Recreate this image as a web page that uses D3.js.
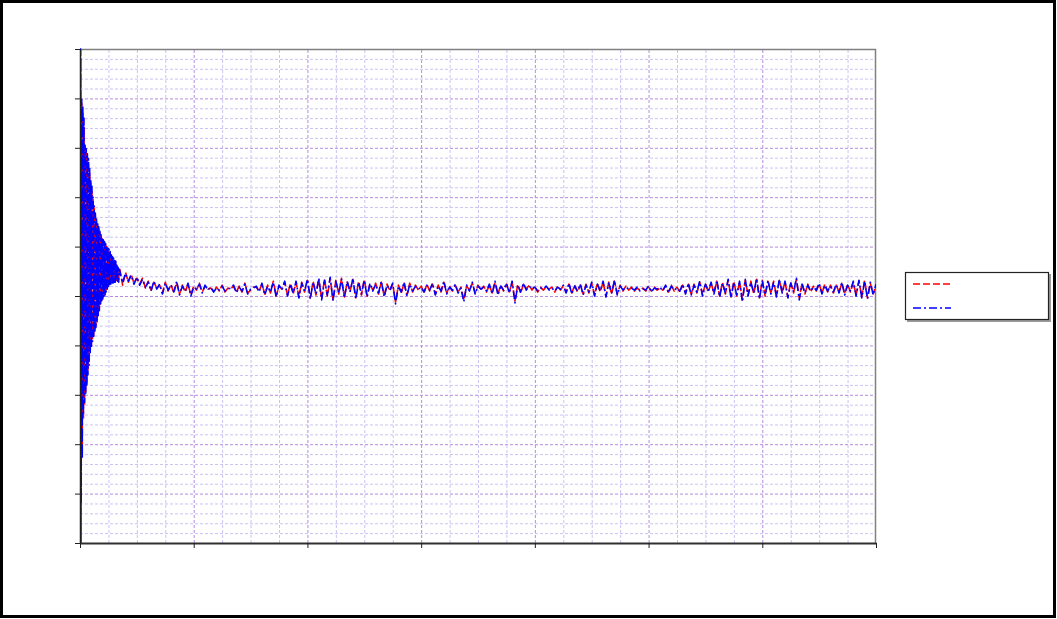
<!DOCTYPE html>
<html>
<head>
<meta charset="utf-8">
<script src="https://cdn.jsdelivr.net/npm/d3@7"></script>
<style>
  html, body { margin: 0; padding: 0; background: #fff; overflow: hidden; }
  svg { display: block; }
</style>
</head>
<body>
<svg id="chart" width="1057" height="619"></svg>
<script>
// ---- sampling grid (x units) ----
const xDomain = [0, 7000];
const yDomain = [-500, 500];
const xMajorTicks = [0, 1000, 2000, 3000, 4000, 5000, 6000, 7000];
const yMajorTicks = [-500, -400, -300, -200, -100, 0, 100, 200, 300, 400, 500];
const transientStart = 0, transientStep = 5;
const steadyStart = 350, steadyStep = 25;

// ---- series 1 (red, dashed) ----
const redTransient = [0, 480, -500, 390, -300, 370, -250, 340, -220, 300, -196, 292, -176, 282, -150, 270, -136, 250, -114, 230,
  -100, 215, -90, 196, -80, 178, -70, 164, -60, 152, -48, 144, -36, 136, -26, 128, -16, 121, -10, 116,
  -4, 112, 0, 108, 4, 104, 10, 100, 16, 96, 20, 92, 24, 88, 26, 82, 28, 78, 28, 74,
  30, 70, 30, 66, 32, 60, 32, 56, 30, 52];
const redSteady = [
  54, 22, 48, 28, 44, 26, 36, 24, 36, 16,
  30, 12, 28, 16, 22, 6, 28, 10, 24, 6,
  28, 4, 22, 8, 24, 2, 20, 12, 26, 8,
  20, 14, 16, 10, 18, 10, 22, 8, 16, 14,
  20, 8, 20, 8, 26, 6, 12, 18, 18, 10,
  24, 4, 22, 6, 30, 0, 20, 14, 28, 2,
  26, 4, 28, -2, 28, 8, 32, -4, 30, 2,
  34, -6, 34, 0, 36, -8, 32, 4, 36, -2,
  28, 10, 34, -4, 30, 2, 34, 0, 24, 12,
  26, 4, 28, 0, 24, 10, 24, -12, 22, 6,
  26, 2, 26, 8, 22, 12, 20, 6, 24, 10,
  24, 4, 22, 8, 28, 6, 20, 10, 22, 8,
  18, -8, 20, 12, 26, 6, 22, 12, 20, 8,
  22, 6, 28, 4, 22, 10, 24, 8, 28, -10,
  24, 6, 24, 14, 22, 12, 20, 8, 18, 12,
  18, 14, 18, 8, 20, 12, 20, 8, 24, 6,
  22, 8, 22, 4, 24, 6, 26, 2, 26, 8,
  28, 0, 28, 4, 30, 4, 22, 10, 20, 12,
  18, 10, 16, 12, 16, 10, 18, 10, 18, 12,
  16, 12, 20, 8, 22, 10, 18, 8, 22, 6,
  24, 4, 24, 6, 28, 2, 26, 8, 26, 6,
  30, 0, 28, 4, 32, -2, 30, 0, 28, -8,
  32, 2, 30, 4, 34, -4, 32, 0, 30, 6,
  30, 0, 32, 8, 28, -2, 28, 6, 34, -4,
  26, 4, 24, 8, 20, 10, 24, 6, 24, 8,
  22, 6, 22, 8, 26, 4, 24, 8, 28, 2,
  30, -2, 32, -4, 26, 4, 22];

// ---- series 2 (blue, dash-dot) ----
const blueTransient = [0, 500, -420, 398, -330, 385, -240, 360, -215, 305, -200, 298, -180, 288, -160, 278, -140, 258, -118, 235,
  -104, 222, -92, 200, -84, 182, -74, 168, -64, 156, -52, 148, -40, 140, -30, 131, -20, 124, -12, 118,
  -6, 114, -2, 110, 2, 106, 8, 102, 14, 99, 20, 95, 22, 90, 24, 85, 26, 80, 26, 77,
  28, 74, 28, 70, 32, 62, 30, 58, 28, 54];
const blueSteady = [
  50, 26, 46, 30, 42, 24, 38, 22, 34, 18,
  28, 10, 30, 14, 24, 4, 26, 12, 22, 8,
  30, 2, 20, 10, 26, 0, 18, 14, 24, 6,
  22, 12, 18, 8, 16, 12, 20, 10, 14, 16,
  22, 6, 18, 10, 24, 4, 14, 16, 20, 8,
  26, 2, 20, 8, 28, -2, 22, 12, 30, 0,
  24, 6, 30, -4, 26, 10, 34, -6, 28, 4,
  36, -8, 32, 2, 38, -10, 30, 6, 34, -4,
  30, 8, 36, -6, 28, 4, 32, -2, 26, 10,
  24, 6, 30, -2, 22, 12, 26, -16, 20, 8,
  28, 0, 24, 10, 20, 14, 18, 8, 22, 12,
  26, 2, 20, 10, 30, 4, 18, 12, 24, 6,
  16, -12, 22, 10, 28, 4, 20, 14, 18, 10,
  24, 4, 30, 2, 20, 12, 26, 6, 30, -14,
  22, 8, 26, 12, 20, 14, 18, 10, 16, 14,
  20, 12, 16, 10, 18, 14, 22, 6, 26, 4,
  20, 10, 24, 2, 22, 8, 28, 0, 24, 10,
  30, -2, 26, 6, 32, 2, 20, 12, 18, 14,
  16, 12, 18, 10, 14, 12, 20, 8, 16, 14,
  18, 10, 22, 6, 20, 12, 16, 10, 24, 4,
  26, 2, 22, 8, 30, 0, 24, 10, 28, 4,
  32, -2, 26, 6, 34, -4, 28, 2, 30, -12,
  34, 0, 28, 6, 36, -6, 30, 2, 32, 4,
  28, -2, 34, 6, 30, -4, 26, 8, 36, -8,
  24, 6, 22, 10, 18, 12, 26, 4, 22, 10,
  20, 8, 24, 6, 28, 2, 22, 10, 30, 0,
  32, -4, 30, -6, 28, 2, 24];

const seriesNames = ["", ""];

(function () {
  function buildSeries(trans, steady) {
    const pts = trans.map((v, i) => [transientStart + i * transientStep, v]);
    steady.forEach((v, i) => pts.push([steadyStart + i * steadyStep, v]));
    return pts;
  }
  const series = [
    { name: seriesNames[0], color: "#ff0000", dash: "7,3", data: buildSeries(redTransient, redSteady) },
    { name: seriesNames[1], color: "#0000ff", dash: "8,3,2,3", data: buildSeries(blueTransient, blueSteady) }
  ];

  const svg = d3.select("#chart");
  const pL = 80, pR = 876, pT = 49, pB = 543;

  svg.append("rect").attr("x", 0).attr("y", 0).attr("width", 1057).attr("height", 619).attr("fill", "#fff");

  const x = d3.scaleLinear().domain(xDomain).range([pL, pR]);
  const y = d3.scaleLinear().domain(yDomain).range([pB, pT]);

  const xMinor = d3.range(xDomain[0], xDomain[1] + 1, 250).filter(v => v % 1000 !== 0);
  const yMinor = d3.range(yDomain[0], yDomain[1] + 1, 20).filter(v => v % 100 !== 0);

  const grid = svg.append("g");
  function styleGrid(g, color) {
    g.select(".domain").remove();
    g.selectAll("line").attr("stroke", color).attr("stroke-width", 1).attr("stroke-dasharray", "3,2");
  }
  grid.append("g").attr("transform", `translate(0,${pB})`)
    .call(d3.axisBottom(x).tickValues(xMinor).tickSize(-(pB - pT)).tickFormat(""))
    .call(g => styleGrid(g, "#c8c4f4"));
  grid.append("g").attr("transform", `translate(${pL},0)`)
    .call(d3.axisLeft(y).tickValues(yMinor).tickSize(-(pR - pL)).tickFormat(""))
    .call(g => styleGrid(g, "#c8c4f4"));
  grid.append("g").attr("transform", `translate(0,${pB})`)
    .call(d3.axisBottom(x).tickValues(xMajorTicks.slice(1, -1)).tickSize(-(pB - pT)).tickFormat(""))
    .call(g => styleGrid(g, "#b48ce0"));
  grid.append("g").attr("transform", `translate(${pL},0)`)
    .call(d3.axisLeft(y).tickValues(yMajorTicks.slice(1, -1)).tickSize(-(pR - pL)).tickFormat(""))
    .call(g => styleGrid(g, "#b48ce0"));

  svg.append("path")
    .attr("d", `M${pL},${pT + 0.5}H${pR - 0.5}V${pB}`)
    .attr("fill", "none").attr("stroke", "#808080").attr("stroke-width", 1.5);

  svg.append("clipPath").attr("id", "clip").append("rect")
    .attr("x", pL).attr("y", pT - 1).attr("width", pR - pL).attr("height", pB - pT + 2);
  const line = d3.line().x(d => x(d[0])).y(d => y(d[1]));
  const lines = svg.append("g").attr("clip-path", "url(#clip)");
  series.forEach(s => {
    lines.append("path")
      .datum(s.data)
      .attr("d", line)
      .attr("fill", "none")
      .attr("stroke", s.color)
      .attr("stroke-width", 1.6)
      .attr("stroke-dasharray", s.dash)
      .attr("stroke-linejoin", "round");
  });

  svg.append("g").attr("transform", `translate(${pL},0)`)
    .call(d3.axisLeft(y).tickValues(yMajorTicks).tickSize(5).tickSizeOuter(0).tickFormat(""))
    .call(g => g.select(".domain").attr("stroke", "#202020").attr("stroke-width", 1.5))
    .call(g => g.selectAll(".tick line").attr("stroke", "#202020").attr("stroke-width", 1));
  svg.append("g").attr("transform", `translate(0,${pB})`)
    .call(d3.axisBottom(x).tickValues(xMajorTicks).tickSize(5).tickSizeOuter(0).tickFormat(""))
    .call(g => g.select(".domain").attr("stroke", "#303030").attr("stroke-width", 2))
    .call(g => g.selectAll(".tick line").attr("stroke", "#202020").attr("stroke-width", 1));

  const lg = svg.append("g").attr("transform", "translate(905,272)");
  lg.append("rect").attr("x", 2).attr("y", 2).attr("width", 144).attr("height", 48).attr("fill", "#9a9a9a");
  lg.append("rect").attr("x", 0.5).attr("y", 0.5).attr("width", 143).attr("height", 47)
    .attr("fill", "#fff").attr("stroke", "#222").attr("stroke-width", 1.2);
  series.forEach((s, i) => {
    const yy = 12 + i * 24;
    lg.append("line").attr("x1", 8).attr("x2", 46).attr("y1", yy).attr("y2", yy)
      .attr("stroke", s.color).attr("stroke-width", 1.4).attr("stroke-dasharray", s.dash);
    lg.append("text").attr("x", 52).attr("y", yy + 4).attr("font-family", "Liberation Sans, Arial")
      .attr("font-size", 11).text(s.name);
  });

  svg.append("rect").attr("x", 1.5).attr("y", 1.5).attr("width", 1053).attr("height", 615)
    .attr("fill", "none").attr("stroke", "#000").attr("stroke-width", 3);
})();
</script>
</body>
</html>
